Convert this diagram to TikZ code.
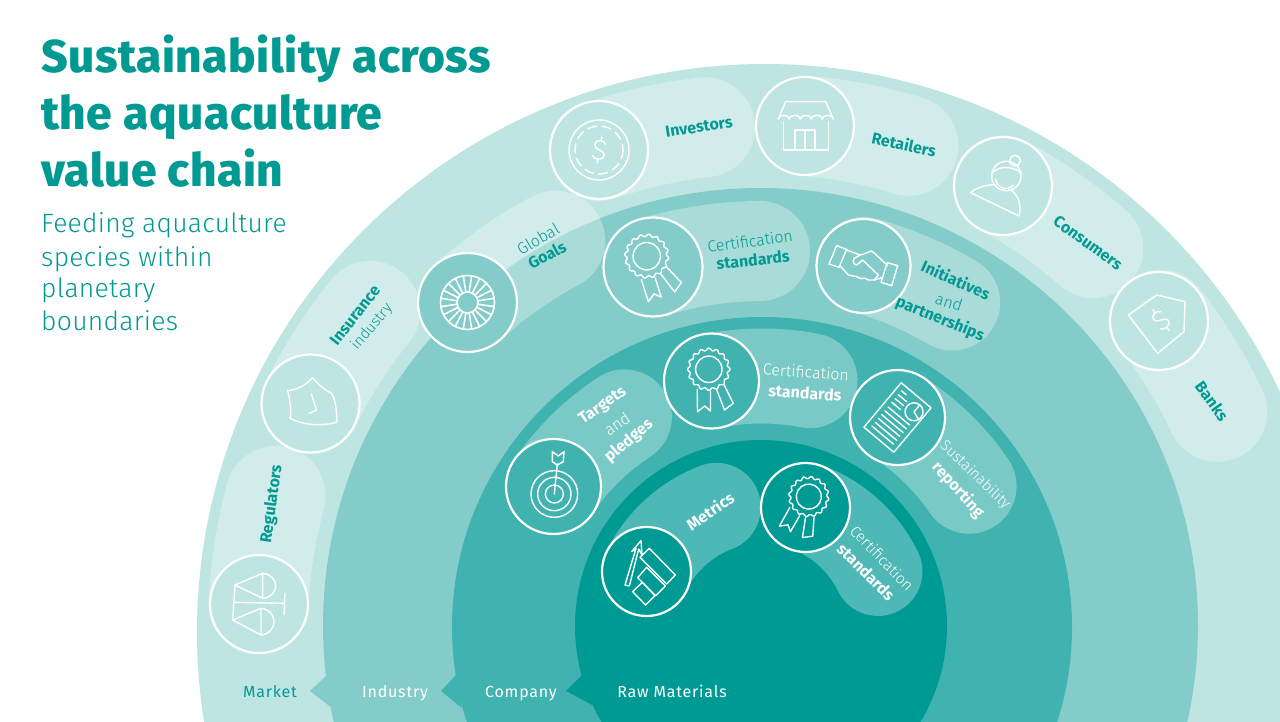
\documentclass[tikz,border=0pt]{standalone}
\usepackage{fontspec}
\setmainfont{Fira Sans}
\newfontfamily\fl{Fira Sans Light}
\newfontfamily\fh[LetterSpace=1.3]{Fira Sans ExtraBold}
\newfontfamily\flsp[LetterSpace=5]{Fira Sans}
\newfontfamily\flq[LetterSpace=1]{Fira Sans Light}
\definecolor{tealA}{HTML}{BFE5E3}
\definecolor{tealB}{HTML}{84CCC9}
\definecolor{tealC}{HTML}{40B3B0}
\definecolor{tealD}{HTML}{009A95}
\definecolor{ink}{HTML}{009A93}
\tikzset{
  iconring/.style={circle,draw=white,line width=2.2pt,inner sep=0pt,minimum size=#1},
  icon/.style={draw=white,line width=1.4pt,line join=round,line cap=round},
  lblb/.style={inner sep=0pt,font=\fontsize{#1}{#1}\selectfont\bfseries},
  lbll/.style={inner sep=0pt,font=\fontsize{#1}{#1}\selectfont\fl},
  band/.style={inner sep=0pt,anchor=base,font=\fontsize{16}{16}\selectfont\flsp},
  ttl/.style={anchor=base west,inner sep=0pt,text=ink,font=\fontsize{46}{46}\selectfont\fh},
  sbt/.style={anchor=base west,inner sep=0pt,text=ink,font=\fontsize{26.5}{26.5}\selectfont\flq},
  pillbar/.style={draw=white,draw opacity=.3,line cap=round,line join=round,line width=#1},
}
\newcommand{\pill}[4]{\draw[pillbar=#4pt] plot[domain=#2:#3,samples=40] ({762+#1*cos(\x)},{628-#1*sin(\x)});}
\newcommand{\rosetteicon}[4]{%
  \begin{scope}[shift={(#1,#2)},rotate=#3,scale=#4]
    \draw[icon] plot[domain=0:360,samples=145] ({-2.7+(20+1.2*cos(16*\x))*cos(\x)},{-11.7+(20+1.2*cos(16*\x))*sin(\x)}) -- cycle;
    \draw[icon] (-2.7,-11.7) circle (13.2);
    \draw[icon] (-14.3,8.3) -- (-14,30.7) -- (-6.7,25) -- (-1,30) -- (-1,10.7);
    \draw[icon] (5,8.3) -- (13,29) -- (21.7,22.3) -- (12.7,4);
  \end{scope}}
\newcommand{\dollaricon}[4]{%
  \begin{scope}[shift={(#1,#2)},rotate=#3,scale=#4]
    \draw[icon] (5,-7) .. controls (4,-11) and (-6,-11) .. (-6,-5) .. controls (-6,1) and (6,-1) .. (6,5) .. controls (6,11) and (-5,11) .. (-6,7);
    \draw[icon] (0,-10) -- (0,-14) (0,10) -- (0,14);
  \end{scope}}
\begin{document}
\begin{tikzpicture}[x=1pt,y=-1pt]
\clip (0,0) rectangle (1280,722);
\fill[white] (0,0) rectangle (1280,722);
% rings and notches
\fill[tealA] (765,632) circle (568);
\fill[tealB] (760.5,625.5) circle (437.5);
\fill[tealB] (310,691) -- (328,674) -- (332,708) -- cycle;
\fill[tealC] (762,627) circle (310);
\fill[tealC] (441,691) -- (457,674) -- (462,708) -- cycle;
\fill[tealD] (761,626) circle (186);
\fill[tealD] (566,691) -- (584,673) -- (598,708) -- cycle;
% pills
\pill{504}{177.3}{164.8}{100}
\pill{504}{153.6}{141}{100}
\pill{439}{132.1}{118.1}{100}
\pill{504}{108.8}{96.5}{100}
\pill{504}{85.1}{73.1}{100}
\pill{504}{61.4}{48.9}{100}
\pill{504}{37.7}{25.4}{100}
\pill{377}{106.8}{90.3}{100}
\pill{377}{74.3}{59.7}{96}
\pill{252}{145.8}{123.1}{95}
\pill{252}{101.6}{79}{95}
\pill{251}{57.2}{34.4}{95}
\pill{129}{153.9}{110.7}{89}
\pill{129}{70.1}{26}{89}
% icon rings
\node[iconring=98pt,fill=tealA] (reg) at (259,604) {};
\node[iconring=98pt,fill=tealA] (ins) at (310.5,403.5) {};
\node[iconring=99pt,fill=tealB] (goa) at (467.5,302.5) {};
\node[iconring=98pt,fill=tealA] (inv) at (599,150) {};
\node[iconring=98pt,fill=tealA] (ret) at (805,126) {};
\node[iconring=98pt,fill=tealA] (con) at (1003,186) {};
\node[iconring=98pt,fill=tealA] (ban) at (1159,321) {};
\node[iconring=99pt,fill=tealB] (crb) at (653,267) {};
\node[iconring=94pt,fill=tealB] (ini) at (863.5,266) {};
\node[iconring=95pt,fill=tealC] (tar) at (553.5,486.5) {};
\node[iconring=95pt,fill=tealC] (crc) at (711.5,381) {};
\node[iconring=95pt,fill=tealC] (sus) at (897.5,417.5) {};
\node[iconring=89pt,fill=tealD] (met) at (646.5,571.5) {};
\node[iconring=89pt,fill=tealD] (crd) at (805.5,507.5) {};
% scales and shield (coordinates of crop 190,240 at 3x)
\begin{scope}[shift={(190,240)},x=.33333pt,y=-.33333pt]
  \draw[icon] (218,1000) -- (135,1035) -- (218,1075) (218,1000) .. controls (270,1005) and (270,1070) .. (218,1075) -- cycle;
  \draw[icon] (213,1105) -- (128,1140) -- (213,1185) (213,1105) .. controls (265,1110) and (265,1180) .. (213,1185) -- cycle;
  \draw[icon] (135,1035) -- (128,1140) (130,1087) -- (283,1090) (285,1060) -- (282,1125);
  \draw[icon] (293,452) .. controls (320,450) and (350,435) .. (367,413) .. controls (390,440) and (415,455) .. (425,460) .. controls (440,490) and (440,520) .. (440,547) .. controls (390,560) and (340,555) .. (300,535) .. controls (305,510) and (300,480) .. (293,452) -- cycle;
  \draw[icon] (364,462) -- (380,510) -- (358,520);
\end{scope}
% goals wheel
\begin{scope}[shift={(467.5,302.5)}]
  \draw[icon,line width=1.6pt] (0,0) circle (27) (0,0) circle (10.5);
  \foreach \a in {9,27,...,351}{
    \draw[icon,line width=1.6pt] (\a:10.5) -- (\a:27);
  }
\end{scope}
% investors, retailers (crop 530,70)
\begin{scope}[shift={(599,150)}]
  \draw[icon] (0,0) circle (30);
  \draw[icon,dash pattern=on 9pt off 5.5pt] (0,0) circle (24);
\end{scope}
\dollaricon{599.5}{150}{-10}{.95}
\begin{scope}[shift={(530,70)},x=.33333pt,y=-.33333pt]
  \draw[icon] (745,147) -- (767,95) -- (887,95) -- (910,147);
  \draw[icon] (745,147) arc[start angle=180,end angle=360,x radius=16.5,y radius=11] arc[start angle=180,end angle=360,x radius=16.5,y radius=11] arc[start angle=180,end angle=360,x radius=16.5,y radius=11] arc[start angle=180,end angle=360,x radius=16.5,y radius=11] arc[start angle=180,end angle=360,x radius=16.5,y radius=11];
  \draw[icon] (760,155) -- (760,240) -- (895,240) -- (895,155);
  \draw[icon] (795,240) -- (795,180) -- (855,180) -- (855,240) (825,180) -- (825,240);
\end{scope}
% handshake (crop 815,225)
\begin{scope}[shift={(815,225)},x=.33333pt,y=-.33333pt]
  \draw[icon] (65,62) -- (95,73) -- (72,127) -- (42,117) -- cycle;
  \draw[icon] (217,113) -- (248,122) -- (230,182) -- (198,172) -- cycle;
  \draw[icon] (95,75) -- (135,90) .. controls (150,88) and (160,80) .. (170,78) -- (182,88) -- (218,122);
  \draw[icon] (135,90) -- (118,100) .. controls (112,110) and (115,118) .. (125,120) -- (143,105) -- (190,150);
  \draw[icon] (75,122) -- (100,150) -- (125,155) -- (135,160) -- (150,160) -- (160,165) -- (178,165) -- (190,150);
  \draw[icon] (178,165) -- (200,158);
\end{scope}
% consumer and tag (crop 930,130)
\begin{scope}[shift={(930,130)},x=.33333pt,y=-.33333pt]
  \draw[icon] (229,138) circle[radius=44];
  \draw[icon] (255,92) circle[radius=16];
  \draw[icon] (187,128) .. controls (210,105) and (250,110) .. (273,128);
  \draw[icon] (197,148) .. controls (205,180) and (235,182) .. (250,165);
  \draw[icon] (195,164) .. controls (165,165) and (140,172) .. (122,188) -- (267,258) .. controls (275,225) and (265,195) .. (243,180);
  \draw[icon] (595,555) -- (680,495) -- (765,515) -- (762,605) -- (683,670) -- cycle;
\end{scope}
\dollaricon{1161}{320}{38}{.95}
\rosetteicon{653}{267}{17}{1.04}
\rosetteicon{711.5}{381}{0}{1}
\rosetteicon{805.5}{507.5}{-30}{.95}
% target and metrics (crop 490,330)
\begin{scope}[shift={(490,330)},x=.33333pt,y=-.33333pt]
  \draw[icon] (193,492) circle[radius=70] (193,492) circle[radius=50] (193,492) circle[radius=27];
  \draw[icon] (193,492) -- (202,402);
  \draw[icon] (187,365) -- (187,395) -- (202,405) -- (220,395) -- (222,365) -- (205,378) -- cycle;
  \draw[icon] (478,655) -- (556,735) -- (530,762) -- (450,682) -- cycle;
  \draw[icon] (470,712) -- (526,768) -- (497,797) -- (443,743) -- cycle;
  \draw[icon] (457,757) -- (495,797) -- (467,825) -- (428,785) -- cycle;
  \draw[icon] (405,765) -- (438,655) -- (425,665) -- (453,632) -- (456,675) -- (446,657) -- (418,768) -- cycle;
\end{scope}
% report
\begin{scope}[shift={(897.5,417.5)},rotate=-40]
  \draw[icon] (-19.5,-29) rectangle (19.5,29);
  \draw[icon] (9,-15) circle (9);
  \draw[icon] (9,-15) -- (9,-24) (9,-15) -- (17.5,-12);
  \draw[icon] (-14,-23) -- (-8,-23) (-14,-18) -- (-3,-18) (-14,-13) -- (-3,-13) (-14,-8) -- (-3,-8);
  \foreach \yy in {-2,3,8,13,18,23}{\draw[icon] (-14,\yy) -- (14,\yy);}
\end{scope}
% title
\node[ttl] (t1) at (41,73) {Sustainability across};
\node[ttl] (t2) at (41,130) {the aquaculture};
\node[ttl] (t3) at (41,187) {value chain};
\node[sbt] (s1) at (41,233) {Feeding aquaculture};
\node[sbt] (s2) at (41,266) {species within};
\node[sbt] (s3) at (41,298) {planetary};
\node[sbt] (s4) at (41,330) {boundaries};
% labels
\node[lblb=16,text=ink,rotate=82] at (272,504) {Regulators};
\node[lblb=16,text=ink,rotate=52] at (355,315) {Insurance};
\node[lbll=15,text=ink,rotate=50] at (372,327) {industry};
\node[lbll=16,text=ink,rotate=30] at (538,239) {Global};
\node[lblb=16,text=ink,rotate=28] at (547,255) {Goals};
\node[lblb=16,text=ink,rotate=9] at (699,127) {Investors};
\node[lblb=16,text=ink,rotate=-12] at (904,144) {Retailers};
\node[lblb=16,text=ink,rotate=-36] at (1088,243) {Consumers};
\node[lblb=16,text=ink,rotate=-54] at (1212,401) {Banks};
\node[lbll=16,text=ink,rotate=8] at (750,241) {Certification};
\node[lblb=16,text=ink,rotate=6] at (753,260) {standards};
\node[lblb=16,text=ink,rotate=-24] at (956,280) {Initiatives};
\node[lbll=16,text=ink,rotate=-18] at (949,302) {and};
\node[lblb=16,text=ink,rotate=-22] at (940,319) {partnerships};
\node[lblb=16,text=white,rotate=35] at (603,406) {Targets};
\node[lbll=16,text=white,rotate=35] at (617,424) {and};
\node[lblb=16,text=white,rotate=40] at (629,441) {pledges};
\node[lbll=16,text=white,rotate=-4] at (806,372) {Certification};
\node[lblb=16,text=white,rotate=-4] at (805,393) {standards};
\node[lbll=15,text=white,rotate=-44] at (975,475) {Sustainability};
\node[lblb=16,text=white,rotate=-48] at (958,490) {reporting};
\node[lblb=16,text=white,rotate=35] at (710,511) {Metrics};
\node[lbll=15.5,text=white,rotate=-46] at (882,558) {Certification};
\node[lblb=16,text=white,rotate=-45] at (866,572) {standards};
\node[band,text=ink] at (270,697) {Market};
\node[band,text=white] at (395,697) {Industry};
\node[band,text=white] at (521,697) {Company};
\node[band,text=white] at (672,697) {Raw Materials};
\end{tikzpicture}
\end{document}
